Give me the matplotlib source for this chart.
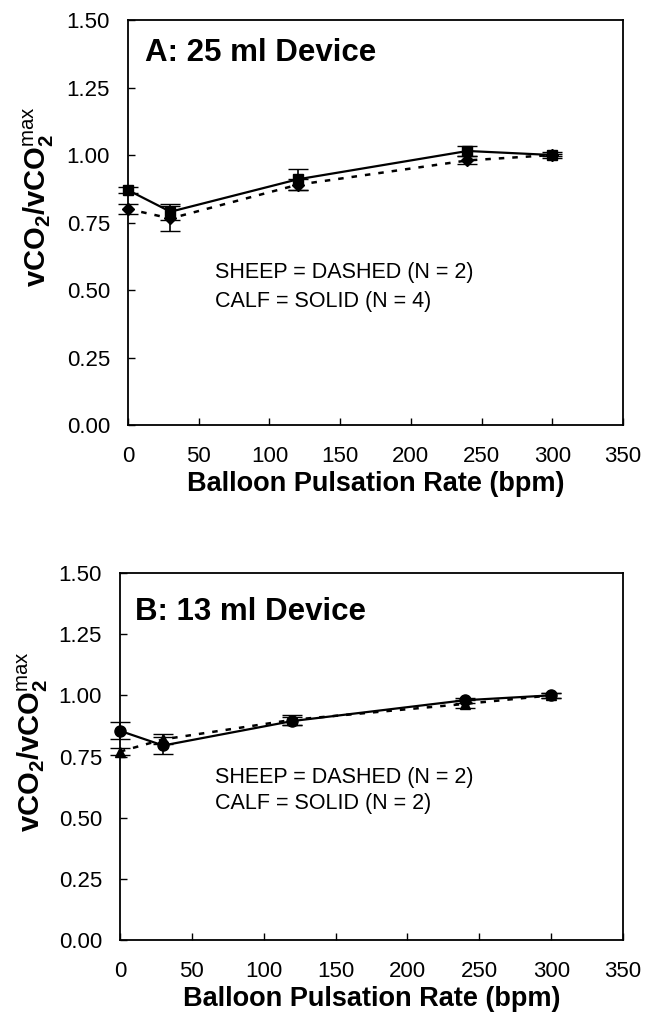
import numpy as np
import matplotlib
matplotlib.use("Agg")
import matplotlib.pyplot as plt

plt.rcParams['font.family'] = ['Liberation Sans', 'DejaVu Sans']
plt.rcParams['mathtext.fontset'] = 'custom'
plt.rcParams['mathtext.rm'] = 'Liberation Sans'
plt.rcParams['mathtext.bf'] = 'Liberation Sans:bold'
plt.rcParams['mathtext.it'] = 'Liberation Sans:italic'

# ---------- data ----------
rate = [0, 30, 120, 240, 300]

# panel A: 25 ml device
a_calf = [0.87, 0.79, 0.91, 1.015, 1.00]
a_calf_err = [0.01, 0.03, 0.04, 0.02, 0.01]
a_sheep = [0.80, 0.765, 0.89, 0.98, 1.00]
a_sheep_err = [0.02, 0.045, 0.02, 0.015, 0.005]

# panel B: 13 ml device
b_calf = [0.855, 0.795, 0.895, 0.98, 1.00]
b_calf_err = [0.035, 0.035, 0.015, 0.01, 0.01]
b_sheep = [0.77, 0.82, 0.90, 0.965, 1.00]
b_sheep_err = [0.015, 0.02, 0.02, 0.015, 0.01]

yticks = [0.0, 0.25, 0.5, 0.75, 1.0, 1.25, 1.5]
xticks = [0, 50, 100, 150, 200, 250, 300, 350]

fig = plt.figure(figsize=(6.45, 10.21), dpi=100)
ax1 = fig.add_axes([0.1985, 0.5837, 0.7675, 0.3967])
ax2 = fig.add_axes([0.186, 0.0793, 0.780, 0.3595])

ylab = r"vCO$_\mathbf{2}$/vCO$_\mathbf{2}^\mathrm{max}$"
dash = (0, (2.2, 3.2))


def setup(ax, title, n_calf, tpos, npos, lpos):
    ax.set_xlim(0, 350)
    ax.set_ylim(0, 1.5)
    ax.set_xticks(xticks)
    ax.set_yticks(yticks)
    ax.set_yticklabels([f"{v:.2f}" for v in yticks])
    ax.tick_params(direction='in', length=5, labelsize=16, width=1)
    ax.tick_params(axis='y', pad=13)
    ax.tick_params(axis='x', pad=15)
    for s in ax.spines.values():
        s.set_linewidth(1.3)
    ax.set_xlabel("Balloon Pulsation Rate (bpm)", fontsize=19.5, fontweight='bold', labelpad=3)
    ax.set_ylabel(ylab, fontsize=21, fontweight='bold')
    ax.yaxis.set_label_coords(lpos[0], lpos[1])
    ax.text(tpos[0], tpos[1], title, transform=ax.transAxes, fontsize=22.5,
            fontweight='bold', va='center')
    ax.text(npos[0], npos[1], "SHEEP = DASHED (N = 2)", transform=ax.transAxes,
            fontsize=15.5, va='center')
    ax.text(npos[0], npos[1] - 0.07, f"CALF = SOLID (N = {n_calf})", transform=ax.transAxes,
            fontsize=15.5, va='center')


# panel A
ax1.errorbar(rate, a_sheep, yerr=a_sheep_err, color='black', ls=dash, lw=1.8,
             marker='D', ms=6, capsize=7, elinewidth=1.2, clip_on=False)
ax1.errorbar(rate, a_calf, yerr=a_calf_err, color='black', ls='-', lw=1.6,
             marker='s', ms=7, capsize=7, elinewidth=1.2, clip_on=False)
setup(ax1, "A: 25 ml Device", 4, (0.034, 0.918), (0.176, 0.376), (-0.146, 0.565))

# panel B
ax2.errorbar(rate, b_sheep, yerr=b_sheep_err, color='black', ls=dash, lw=1.8,
             marker='^', ms=7, capsize=7, elinewidth=1.2, clip_on=False)
ax2.errorbar(rate, b_calf, yerr=b_calf_err, color='black', ls='-', lw=1.6,
             marker='o', ms=8, capsize=7, elinewidth=1.2, clip_on=False)
setup(ax2, "B: 13 ml Device", 2, (0.03, 0.893), (0.189, 0.443), (-0.139, 0.54))

fig.savefig("out.png", dpi=100)
